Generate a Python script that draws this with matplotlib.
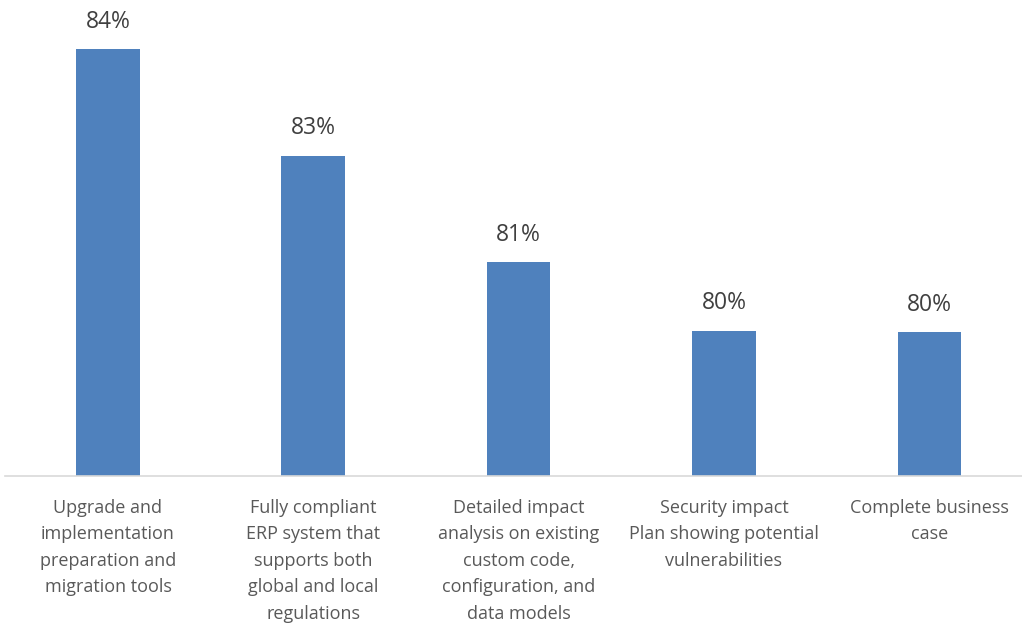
import numpy as np
import matplotlib.pyplot as plt

# data
categories = [
    "Upgrade and\nimplementation\npreparation and\nmigration tools",
    "Fully compliant\nERP system that\nsupports both\nglobal and local\nregulations",
    "Detailed impact\nanalysis on existing\ncustom code,\nconfiguration, and\ndata models",
    "Security impact\nPlan showing potential\nvulnerabilities",
    "Complete business\ncase",
]
values = [84.0, 82.5, 81.0, 80.04, 80.02]
value_labels = ["84%", "83%", "81%", "80%", "80%"]

plt.rcParams['font.family'] = ['Open Sans', 'DejaVu Sans']

fig = plt.figure(figsize=(10.22, 6.27), dpi=100)
# axes runs slightly past the right edge, like the cropped original
ax = fig.add_axes([5.3 / 1022, 1 - 476 / 627, (1032 - 5.3) / 1022, 476 / 627])

x = np.arange(len(categories))
base = 78.0
ax.bar(x, np.array(values) - base, bottom=base, width=0.31, color='#4f81bd')

for xi, v, lab in zip(x, values, value_labels):
    ax.annotate(lab, (xi, v), xytext=(0, 11), textcoords='offset points',
                ha='center', va='bottom', fontsize=16.5, color='#404040')

ax.set_xlim(-0.5, len(categories) - 0.5)
ax.set_ylim(base, base + 476 / 71.2)
ax.set_xticks(x)
ax.set_xticklabels(categories, fontsize=13, color='#595959', linespacing=1.6)
ax.tick_params(axis='x', length=0, pad=16.5)
ax.set_yticks([])

for s in ['top', 'right', 'left']:
    ax.spines[s].set_visible(False)
ax.spines['bottom'].set_color('#d9d9d9')
ax.spines['bottom'].set_linewidth(1.2)

fig.savefig('out.png', dpi=100)
